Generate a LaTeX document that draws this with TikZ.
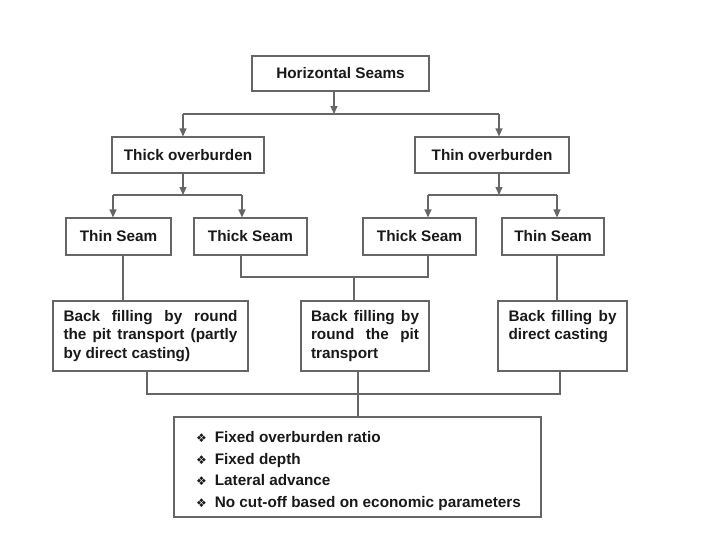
\documentclass[tikz,border=0pt]{standalone}
\usepackage{fontspec}
\setmainfont{Liberation Sans}
\newfontfamily\dingfont{DejaVu Sans}
\usetikzlibrary{arrows.meta}
\newcommand{\dia}{{\dingfont\fontsize{12}{12}\selectfont ❖}\hspace{8pt}}

\begin{document}
\begin{tikzpicture}[x=1pt,y=-1pt,>={Triangle[length=8pt,width=7pt]},
  box/.style={draw=black!60,line width=1.1pt,inner sep=0pt,text=black!90,font=\fontsize{15.3}{18.5}\selectfont\bfseries},
  line/.style={draw=black!60,line width=1.1pt}]
\useasboundingbox (0,0) rectangle (706,550);
% boxes
\node[box,minimum width=177,minimum height=35](hs) at (340.5,73.5){Horizontal Seams};
\node[box,minimum width=152,minimum height=36](tko) at (188,155){Thick overburden};
\node[box,minimum width=154,minimum height=36](tno) at (492,155){Thin overburden};
\node[box,minimum width=105,minimum height=37](s1) at (118.5,236.5){Thin Seam};
\node[box,minimum width=113,minimum height=37](s2) at (250.5,236.5){Thick Seam};
\node[box,minimum width=113,minimum height=37](s3) at (419.5,236.5){Thick Seam};
\node[box,minimum width=102,minimum height=37](s4) at (553,236.5){Thin Seam};
\node[box,minimum width=195,minimum height=70](f1) at (150.5,336)
  {\parbox[t][52pt][t]{174pt}{Back filling by round\linebreak the pit transport (partly\linebreak by direct casting)}};
\node[box,minimum width=128,minimum height=70](f2) at (365,336)
  {\parbox[t][52pt][t]{108pt}{Back filling by\linebreak round the pit\linebreak transport}};
\node[box,minimum width=129,minimum height=70](f3) at (562.5,336)
  {\parbox[t][52pt][t]{108pt}{Back filling by\linebreak direct casting}};
\node[box,minimum width=367,minimum height=100](bot) at (357.5,467){};
\node[box,draw=none,align=left,font=\fontsize{15.3}{21.7}\selectfont\bfseries](list) at ([yshift=-4pt,xshift=1pt]bot.center)
  {\dia Fixed overburden ratio\\ \dia Fixed depth\\ \dia Lateral advance\\ \dia No cut-off based on economic parameters};
% junctions
\coordinate (j0) at (334,114);
\coordinate (a1) at (183,114);  \coordinate (a2) at (499,114);
\coordinate (b0) at (183,195);  \coordinate (b1) at (113,195);  \coordinate (b2) at (242,195);
\coordinate (c0) at (499,195);  \coordinate (c1) at (428,195);  \coordinate (c2) at (557,195);
\coordinate (d1) at (123,277);  \coordinate (d4) at (557,277);
\coordinate (e0) at (354,277);  \coordinate (e1) at (241,277);  \coordinate (e2) at (428,277);
\coordinate (g1) at (147,394);  \coordinate (g2) at (358,394);  \coordinate (g3) at (560,394);
% arrows
\draw[line,->] (hs.south -| j0) -- (j0);
\draw[line] (a1) -- (a2);
\draw[line,->] (a1) -- (a1 |- tko.north);
\draw[line,->] (a2) -- (a2 |- tno.north);
\draw[line,->] (b0 |- tko.south) -- (b0);
\draw[line] (b1) -- (b2);
\draw[line,->] (b1) -- (b1 |- s1.north);
\draw[line,->] (b2) -- (b2 |- s2.north);
\draw[line,->] (c0 |- tno.south) -- (c0);
\draw[line] (c1) -- (c2);
\draw[line,->] (c1) -- (c1 |- s3.north);
\draw[line,->] (c2) -- (c2 |- s4.north);
% plain lines
\draw[line] (d1 |- s1.south) -- (d1 |- f1.north);
\draw[line] (d4 |- s4.south) -- (d4 |- f3.north);
\draw[line] (e1 |- s2.south) -- (e1) -- (e2) -- (e2 |- s3.south);
\draw[line] (e0) -- (e0 |- f2.north);
\draw[line] (g1 |- f1.south) -- (g1) -- (g3) -- (g3 |- f3.south);
\draw[line] (g2 |- f2.south) -- (g2 |- bot.north);
\end{tikzpicture}
\end{document}
